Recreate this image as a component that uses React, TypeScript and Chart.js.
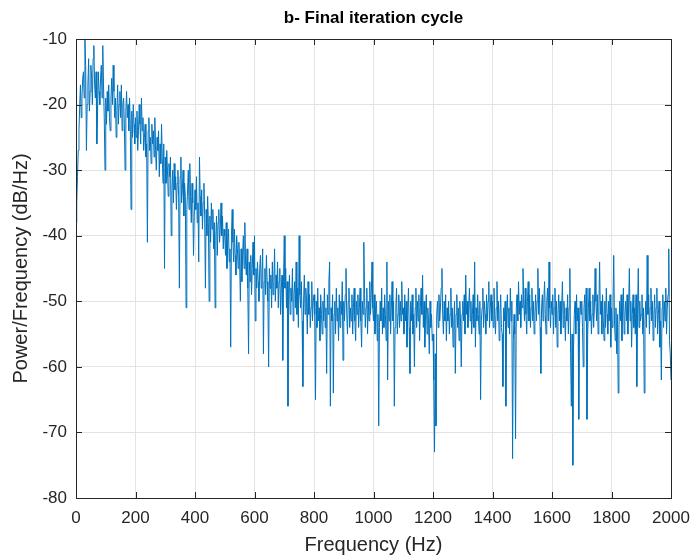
import React, { useEffect, useRef } from "react";
import { Chart, registerables } from "chart.js";

Chart.register(...registerables);

// Frequency grid (Hz): one sample every 2.5 Hz from 0 to 2000 Hz
const freqStepHz = 2.5;

// Power spectral density (dB/Hz), band by band
const psd0to497 = [
  -38, -35, -31, -27, -24, -20, -17, -22, -19, -16, -15, -19, -10, -14, -27, -20, -17, -13, -21, -18,
  -14, -16, -20, -13, -11, -17, -19, -15, -26, -21, -15, -18, -20, -16, -14, -19, -11, -17, -22, -30,
  -19, -23, -18, -21, -17, -22, -24, -19, -16, -20, -14, -18, -22, -19, -25, -21, -17, -23, -20, -18,
  -22, -17, -24, -20, -19, -23, -30, -21, -18, -22, -20, -24, -19, -23, -36, -21, -25, -20, -23, -26,
  -22, -25, -21, -27, -24, -20, -23, -26, -19, -24, -22, -27, -25, -23, -28, -26, -41, -24, -22, -27,
  -25, -29, -23, -26, -24, -28, -22, -27, -30, -25, -27, -24, -31, -26, -29, -23, -28, -32, -26, -45,
  -28, -32, -27, -30, -34, -29, -31, -28, -40, -33, -30, -35, -29, -33, -31, -36, -32, -30, -34, -48,
  -31, -28, -35, -33, -30, -37, -32, -34, -51, -36, -33, -30, -36, -29, -34, -38, -32, -35, -43, -37,
  -33, -36, -31, -38, -35, -44, -28, -34, -37, -33, -39, -35, -32, -37, -48, -36, -40, -34, -38, -50,
  -37, -41, -35, -39, -36, -42, -38, -51, -40, -37, -43, -38, -36, -41, -39, -35, -40, -37, -42, -39,
];
const psd500to997 = [
  -40, -43, -38, -45, -41, -39, -44, -42, -57, -40, -36, -41, -44, -39, -43, -46, -40, -42, -45, -41,
  -44, -50, -42, -47, -43, -40, -45, -38, -44, -46, -42, -48, -58, -44, -47, -43, -49, -45, -41, -46,
  -40, -53, -45, -48, -44, -47, -50, -45, -43, -48, -46, -42, -58, -47, -45, -49, -43, -47, -50, -60,
  -45, -48, -46, -51, -44, -49, -47, -42, -50, -46, -48, -44, -51, -47, -45, -52, -48, -46, -59, -47,
  -40, -48, -45, -51, -47, -66, -49, -46, -52, -48, -50, -45, -53, -49, -47, -51, -44, -52, -48, -54,
  -40, -49, -51, -47, -53, -63, -50, -46, -52, -48, -50, -55, -47, -52, -49, -54, -51, -47, -53, -50,
  -49, -52, -65, -50, -54, -48, -53, -51, -56, -49, -52, -55, -50, -53, -48, -54, -51, -61, -49, -52,
  -47, -44, -66, -51, -53, -49, -64, -52, -50, -55, -48, -53, -51, -56, -49, -54, -50, -52, -47, -59,
  -50, -53, -49, -45, -52, -55, -50, -48, -54, -51, -53, -49, -55, -51, -48, -53, -56, -50, -52, -49,
  -54, -51, -48, -53, -57, -50, -52, -41, -49, -54, -51, -48, -55, -50, -53, -47, -52, -49, -44, -51,
];
const psd1000to1497 = [
  -53, -49, -55, -51, -50, -56, -52, -69, -54, -50, -53, -48, -55, -51, -54, -49, -52, -56, -44, -62,
  -50, -53, -49, -55, -51, -47, -53, -50, -66, -54, -51, -48, -55, -52, -49, -54, -50, -53, -47, -52,
  -51, -55, -49, -53, -50, -57, -52, -48, -54, -61, -50, -53, -49, -55, -52, -60, -51, -48, -54, -50,
  -53, -49, -56, -51, -48, -52, -46, -54, -50, -57, -52, -49, -55, -51, -53, -58, -50, -54, -52, -56,
  -55, -62, -73, -58, -69, -52, -50, -54, -49, -53, -51, -48, -45, -52, -55, -50, -53, -49, -56, -51,
  -53, -50, -55, -52, -48, -54, -51, -57, -53, -50, -61, -52, -49, -54, -51, -56, -50, -53, -60, -52,
  -50, -53, -49, -55, -46, -52, -50, -54, -51, -48, -53, -50, -55, -52, -49, -54, -44, -57, -51, -53,
  -49, -52, -55, -50, -65, -53, -51, -48, -54, -50, -52, -55, -49, -53, -50, -47, -54, -51, -49, -53,
  -50, -54, -48, -52, -55, -51, -47, -53, -50, -56, -52, -49, -54, -55, -63, -51, -53, -50, -66, -52,
  -49, -54, -51, -55, -48, -53, -50, -74, -56, -52, -55, -71, -51, -49, -53, -47, -52, -50, -54, -49,
];
const psd1500to2000 = [
  -51, -45, -50, -53, -48, -52, -55, -50, -47, -53, -49, -54, -51, -48, -53, -50, -55, -52, -49, -53,
  -50, -45, -52, -48, -54, -61, -51, -49, -53, -50, -47, -52, -55, -50, -48, -53, -44, -51, -54, -50,
  -52, -49, -55, -51, -48, -54, -50, -57, -52, -49, -53, -50, -55, -51, -47, -54, -50, -52, -56, -51,
  -53, -49, -55, -51, -45, -58, -66, -55, -75, -57, -52, -50, -55, -49, -53, -51, -68, -54, -50, -52,
  -50, -54, -60, -51, -49, -53, -48, -68, -55, -51, -48, -53, -50, -55, -52, -49, -54, -51, -45, -50,
  -53, -49, -55, -51, -44, -52, -50, -55, -49, -53, -56, -50, -54, -48, -52, -55, -50, -53, -49, -57,
  -51, -54, -50, -43, -53, -56, -51, -58, -52, -64, -54, -50, -53, -49, -56, -51, -48, -55, -52, -50,
  -53, -49, -55, -51, -45, -53, -50, -57, -52, -49, -54, -51, -55, -49, -63, -52, -45, -54, -50, -53,
  -52, -49, -55, -51, -64, -53, -50, -54, -43, -52, -49, -55, -51, -48, -53, -50, -56, -52, -49, -54,
  -51, -48, -55, -52, -50, -57, -53, -62, -51, -49, -54, -50, -53, -48, -55, -51, -49, -42, -56, -58,
  -62,
];

const xTicks = [0, 200, 400, 600, 800, 1000, 1200, 1400, 1600, 1800, 2000];
const yTicks = [-80, -70, -60, -50, -40, -30, -20, -10];

const titleText = "b- Final iteration cycle";
const xLabel = "Frequency (Hz)";
const yLabel = "Power/Frequency (dB/Hz)";

const AXIS = "#262626";
const FONT = "'Liberation Sans', Arial, Helvetica, sans-serif";

const boxPlugin = {
  id: "matlabBox",
  afterDatasetsDraw(chart: any) {
    const { ctx, chartArea: a, scales } = chart;
    const tl = 6;
    ctx.save();
    ctx.strokeStyle = AXIS;
    ctx.lineWidth = 1;
    ctx.beginPath();
    ctx.rect(Math.round(a.left) + 0.5, Math.round(a.top) + 0.5, Math.round(a.right - a.left), Math.round(a.bottom - a.top));
    ctx.stroke();
    ctx.beginPath();
    for (const v of xTicks) {
      const px = Math.round(scales.x.getPixelForValue(v)) + 0.5;
      ctx.moveTo(px, a.bottom);
      ctx.lineTo(px, a.bottom - tl);
      ctx.moveTo(px, a.top);
      ctx.lineTo(px, a.top + tl);
    }
    for (const v of yTicks) {
      const py = Math.round(scales.y.getPixelForValue(v)) + 0.5;
      ctx.moveTo(a.left, py);
      ctx.lineTo(a.left + tl, py);
      ctx.moveTo(a.right, py);
      ctx.lineTo(a.right - tl, py);
    }
    ctx.stroke();
    // title centred over the axes box
    ctx.fillStyle = "#000";
    ctx.font = `bold 17px ${FONT}`;
    ctx.textAlign = "center";
    ctx.textBaseline = "middle";
    ctx.fillText(titleText, (a.left + a.right) / 2, 18);
    ctx.restore();
  },
};

export default function App() {
  const ref = useRef<HTMLCanvasElement>(null);

  useEffect(() => {
    if (!ref.current) return;
    const psd = [...psd0to497, ...psd500to997, ...psd1000to1497, ...psd1500to2000];
    const points = psd.map((y, i) => ({ x: i * freqStepHz, y }));
    const chart = new Chart(ref.current, {
      type: "line",
      data: {
        datasets: [
          {
            data: points,
            borderColor: "#0072BD",
            borderWidth: 1,
            pointRadius: 0,
            tension: 0,
            fill: false,
          },
        ],
      },
      options: {
        animation: false,
        responsive: false,
        layout: { padding: { left: 0, right: 22, top: 39, bottom: 0 } },
        plugins: {
          legend: { display: false },
          tooltip: { enabled: false },
          title: { display: false },
        },
        scales: {
          x: {
            type: "linear",
            min: 0,
            max: 2000,
            afterFit: (s: any) => {
              s.height = 60;
            },
            afterBuildTicks: (s: any) => {
              s.ticks = xTicks.map((v) => ({ value: v }));
            },
            ticks: {
              color: AXIS,
              font: { family: FONT, size: 17 },
              padding: 0,
              maxRotation: 0,
              autoSkip: false,
              callback: (v: any) => String(v),
            },
            grid: { color: "#e3e3e3", drawTicks: true, tickLength: 10, tickColor: "rgba(0,0,0,0)", lineWidth: 1 },
            border: { display: true, color: AXIS },
            title: {
              display: true,
              text: xLabel,
              color: AXIS,
              font: { family: FONT, size: 20, lineHeight: 1.2 },
              padding: { top: 0, bottom: 1 },
            },
          },
          y: {
            type: "linear",
            min: -80,
            max: -10,
            afterFit: (s: any) => {
              s.width = 76;
            },
            afterBuildTicks: (s: any) => {
              s.ticks = yTicks.map((v) => ({ value: v }));
            },
            ticks: {
              color: AXIS,
              font: { family: FONT, size: 17 },
              padding: 9,
              autoSkip: false,
              callback: (v: any) => String(v),
            },
            grid: { color: "#e3e3e3", drawTicks: false, lineWidth: 1 },
            border: { display: true, color: AXIS },
            title: {
              display: true,
              text: yLabel,
              color: AXIS,
              font: { family: FONT, size: 20, lineHeight: 1.2 },
              padding: { top: 9, bottom: 0 },
            },
          },
        },
      },
      plugins: [boxPlugin],
    });
    return () => chart.destroy();
  }, []);

  return (
    <div style={{ position: "fixed", left: 0, top: 0, width: 693, height: 558, background: "#fff" }}>
      <canvas ref={ref} width={693} height={558} style={{ width: 693, height: 558 }} />
    </div>
  );
}
